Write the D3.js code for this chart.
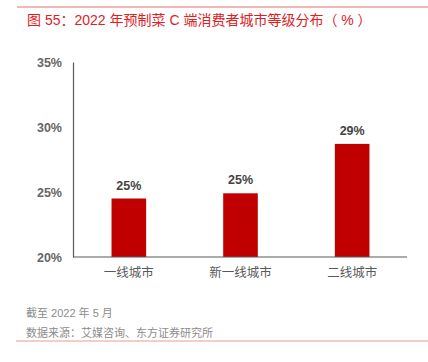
<!DOCTYPE html>
<html>
<head>
<meta charset="utf-8">
<script src="https://cdn.jsdelivr.net/npm/d3@7"></script>
<style>
  body { margin: 0; background: #fff; }
  text { font-family: "Liberation Sans", "Noto Sans CJK SC", sans-serif; }
</style>
</head>
<body>
<div id="main"></div>
<script>
var width = 428, height = 362;

var categories = ["一线城市", "新一线城市", "二线城市"];
var values = [24.5, 24.9, 28.7];
var labels = ["25%", "25%", "29%"];
var yTicks = [20, 25, 30, 35];

var RED = "#c00000";

function init(){
  var svg = d3.select("#main").append("svg")
    .attr("width", width)
    .attr("height", height);

  // top rule + title
  svg.append("line").attr("x1", 17).attr("x2", 428).attr("y1", 7).attr("y2", 7)
    .attr("stroke", "#e8706f").attr("stroke-width", 1.2);
  svg.append("text").attr("x", 27).attr("y", 25)
    .attr("fill", "#e0201f").attr("font-size", 14)
    .text("图 55：2022 年预制菜 C 端消费者城市等级分布（ % ）");

  var x = d3.scaleBand().domain(categories).range([73, 408]).paddingInner(0.69).paddingOuter(0.345);
  var y = d3.scaleLinear().domain([20, 35]).range([257, 62]);

  // y axis
  var yAxis = svg.append("g").attr("transform", "translate(73,0)")
    .call(d3.axisLeft(y).tickValues(yTicks).tickSize(0).tickPadding(11).tickFormat(function(d){ return d + "%"; }));
  yAxis.select(".domain").attr("stroke", "#595959").attr("stroke-width", 1.2);
  yAxis.selectAll("text").attr("font-size", 12.5).attr("font-weight", "bold").attr("fill", "#666")
    .attr("font-family", "Liberation Sans, sans-serif");

  // bars
  svg.selectAll(".bar").data(values).enter().append("rect")
    .attr("class", "bar")
    .attr("x", function(d, i){ return x(categories[i]); })
    .attr("width", x.bandwidth())
    .attr("y", function(d){ return y(d); })
    .attr("height", function(d){ return y(20) - y(d); })
    .attr("fill", RED);

  svg.selectAll(".val").data(values).enter().append("text")
    .attr("x", function(d, i){ return x(categories[i]) + x.bandwidth() / 2; })
    .attr("y", function(d){ return y(d) - 9; })
    .attr("text-anchor", "middle")
    .attr("font-size", 12.5).attr("font-weight", "bold").attr("fill", "#444")
    .text(function(d, i){ return labels[i]; });

  // x axis
  var xAxis = svg.append("g").attr("transform", "translate(0,257)")
    .call(d3.axisBottom(x).tickSize(0).tickPadding(11));
  xAxis.select(".domain").attr("d", "M73,0H407").attr("stroke", "#595959").attr("stroke-width", 1.2);
  xAxis.selectAll("text").attr("font-size", 12.5).attr("fill", "#595959")
    .attr("font-family", "Noto Sans CJK SC, sans-serif");

  // footer
  svg.append("text").attr("x", 26).attr("y", 317).attr("font-size", 11).attr("fill", "#8c8c8c")
    .text("截至 2022 年 5 月");
  svg.append("text").attr("x", 26).attr("y", 337).attr("font-size", 11).attr("fill", "#8c8c8c")
    .text("数据来源：艾媒咨询、东方证券研究所");
  svg.append("line").attr("x1", 16).attr("x2", 428).attr("y1", 341).attr("y2", 341)
    .attr("stroke", "#e89a9a").attr("stroke-width", 1.2);
}
init();
</script>
</body>
</html>
